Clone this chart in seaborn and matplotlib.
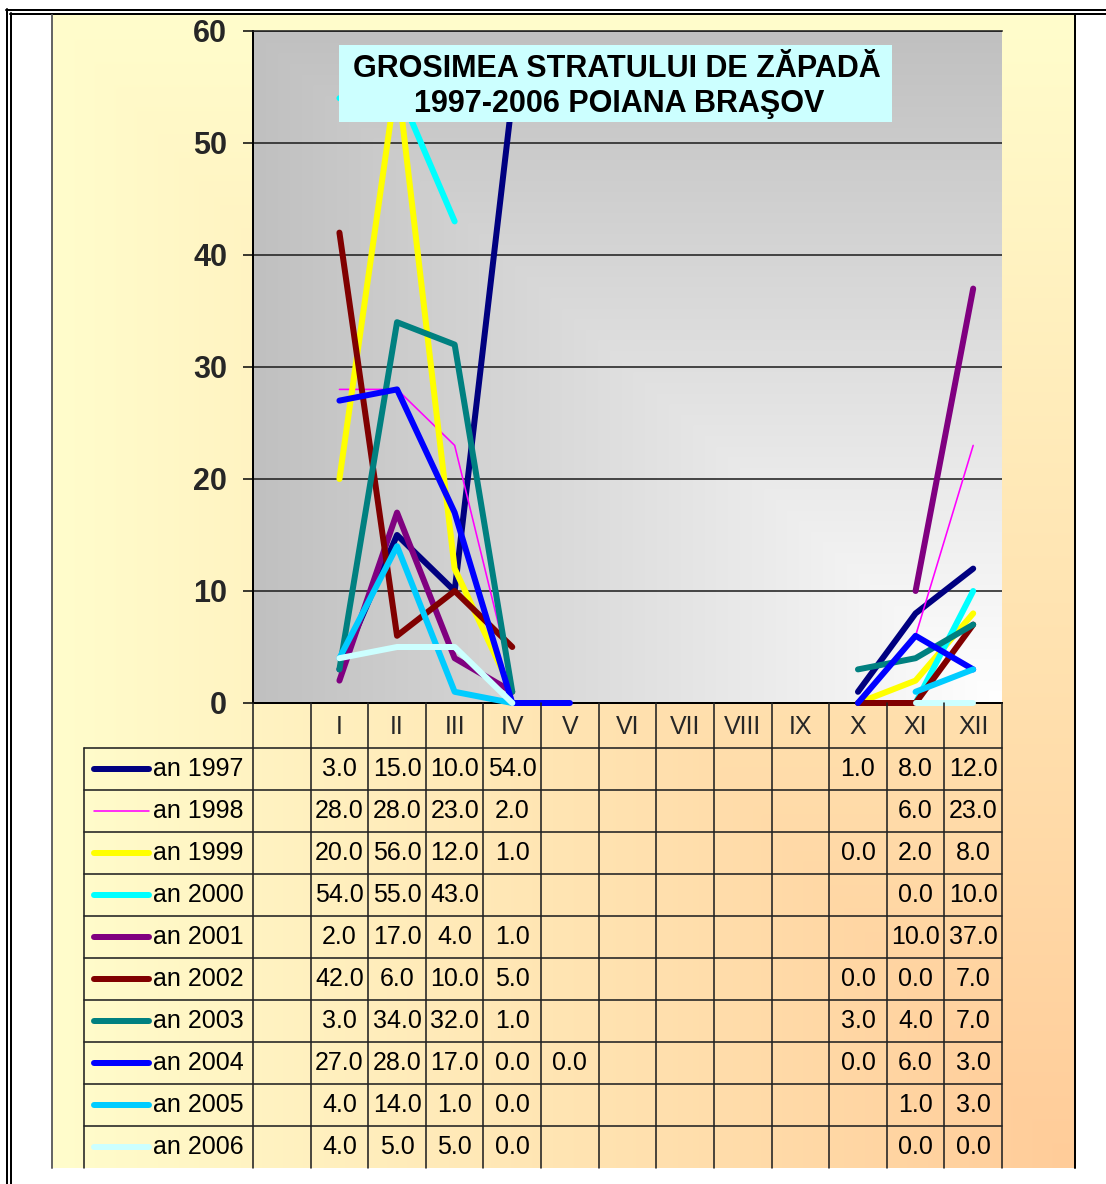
import numpy as np
import pandas as pd
import matplotlib
matplotlib.use('Agg')
import matplotlib.pyplot as plt
import seaborn as sns
from matplotlib.patches import Rectangle
from matplotlib.transforms import blended_transform_factory

# ---------------- data ----------------
months = ['I', 'II', 'III', 'IV', 'V', 'VI', 'VII', 'VIII', 'IX', 'X', 'XI', 'XII']
years = ['an 1997', 'an 1998', 'an 1999', 'an 2000', 'an 2001',
         'an 2002', 'an 2003', 'an 2004', 'an 2005', 'an 2006']
N = np.nan
v1997 = [3, 15, 10, 54, N, N, N, N, N, 1, 8, 12]
v1998 = [28, 28, 23, 2, N, N, N, N, N, N, 6, 23]
v1999 = [20, 56, 12, 1, N, N, N, N, N, 0, 2, 8]
v2000 = [54, 55, 43, N, N, N, N, N, N, N, 0, 10]
v2001 = [2, 17, 4, 1, N, N, N, N, N, N, 10, 37]
v2002 = [42, 6, 10, 5, N, N, N, N, N, 0, 0, 7]
v2003 = [3, 34, 32, 1, N, N, N, N, N, 3, 4, 7]
v2004 = [27, 28, 17, 0, 0, N, N, N, N, 0, 6, 3]
v2005 = [4, 14, 1, 0, N, N, N, N, N, N, 1, 3]
v2006 = [4, 5, 5, 0, N, N, N, N, N, N, 0, 0]
series = [v1997, v1998, v1999, v2000, v2001, v2002, v2003, v2004, v2005, v2006]
colors = ['#000080', '#FF00FF', '#FFFF00', '#00FFFF', '#800080',
          '#800000', '#008080', '#0000FF', '#00CCFF', '#CCFFFF']
title_lines = ['GROSIMEA STRATULUI DE ZĂPADĂ', '1997-2006 POIANA BRAŞOV']

# ---------------- style ----------------
sns.set_theme(style='white')
plt.rcParams['font.family'] = ['Liberation Sans', 'DejaVu Sans']

W, H = 1106, 1184
fig = plt.figure(figsize=(W / 100, H / 100), dpi=100)
PX = 0.72  # points per pixel
THICK = 6 * PX
THIN = 1.6 * PX

# background axes in pixel coordinates
bg = fig.add_axes([0, 0, 1, 1], zorder=0)
bg.set_xlim(0, W)
bg.set_ylim(H, 0)
bg.axis('off')

# outer chart area gradient (light yellow -> peach toward bottom-right)
nx, ny = 300, 300
u = np.linspace(0, 1, nx)[None, :]
t = np.linspace(0, 1, ny)[:, None]
d = np.maximum(1 - u, 1 - t)  # 0 at bottom-right corner
c0 = np.array([255, 204, 153]) / 255.0
c1 = np.array([255, 253, 204]) / 255.0
img = c0[None, None, :] * (1 - d[..., None]) + c1[None, None, :] * d[..., None]
bg.imshow(img, extent=[52, 1075, 1168, 15], aspect='auto', interpolation='bilinear', zorder=0)

# plot area gradient (gray -> white at bottom-right)
d2 = np.maximum(1 - u, 1 - t)
g = (255 - (255 - 192) * d2) / 255.0
img2 = np.dstack([g, g, g])
bg.imshow(img2, extent=[253, 1002, 703, 31], aspect='auto', interpolation='bilinear', zorder=1)

# frames
bg.plot([6.5, 6.5], [9, H], color='black', lw=2 * PX, zorder=3)
bg.plot([10.5, 10.5], [13, H], color='black', lw=2 * PX, zorder=3)
bg.plot([5.5, W], [10, 10], color='black', lw=2 * PX, zorder=3)
bg.plot([10, W], [14, 14], color='black', lw=2 * PX, zorder=3)
bg.plot([52, 52], [15, 1168], color='#666666', lw=2 * PX, zorder=3)
bg.plot([1075, 1075], [14, 1168], color='black', lw=2 * PX, zorder=3)
bg.set_xlim(0, W)
bg.set_ylim(H, 0)

# ---------------- main plot ----------------
ax = fig.add_axes([253 / W, 1 - 703 / H, (1002 - 253) / W, (703 - 31) / H], zorder=1)
ax.set_facecolor('none')
x_idx = np.arange(1, 13)
for name, vals, col in zip(years, series, colors):
    df = pd.DataFrame({'x': x_idx, 'y': np.array(vals, dtype=float)})
    df['seg'] = df['y'].isna().cumsum()
    df = df.dropna()
    lw = THIN if name == 'an 1998' else THICK
    sns.lineplot(data=df, x='x', y='y', units='seg', estimator=None, sort=False,
                 color=col, linewidth=lw, ax=ax, legend=False,
                 solid_capstyle='round', solid_joinstyle='round', clip_on=False, zorder=3)

ax.set_xlim(-0.5, 12.5)
ax.set_ylim(0, 60)
ax.set_yticks(range(0, 61, 10))
ax.set_xticks(range(13))
ax.set_xticklabels([''] + months, fontsize=18)
for lab in ax.get_yticklabels():
    lab.set_fontweight('bold')
ax.tick_params(axis='y', direction='out', length=10 * PX, width=1.5 * PX,
               color='black', labelsize=22, pad=16 * PX, left=True)
ax.tick_params(axis='x', length=0, pad=24 * PX)
for lab in ax.get_xticklabels():
    lab.set_verticalalignment('center')
ax.grid(axis='y', color='#222222', linewidth=1.6 * PX, zorder=1)
ax.grid(axis='x', visible=False)
ax.set_axisbelow(True)
ax.set_xlabel('')
ax.set_ylabel('')
ax.spines['right'].set_visible(False)
ax.spines['top'].set_color('#222222')
ax.spines['top'].set_linewidth(1.6 * PX)
ax.spines['left'].set_color('black')
ax.spines['left'].set_linewidth(2 * PX)
ax.spines['bottom'].set_color('black')
ax.spines['bottom'].set_linewidth(2 * PX)

# ---------------- overlay: title + data table ----------------
ov = fig.add_axes([0, 0, 1, 1], zorder=2)
ov.set_facecolor('none')
ov.set_xlim(0, W)
ov.set_ylim(H, 0)
ov.axis('off')

ov.add_patch(Rectangle((339, 45), 553, 77, facecolor='#CCFFFF', edgecolor='none', zorder=2))
ov.text(617, 77, title_lines[0], ha='center', va='baseline', fontsize=22,
        fontweight='bold', color='black', zorder=3)
ov.text(619, 112, title_lines[1], ha='center', va='baseline', fontsize=22,
        fontweight='bold', color='black', zorder=3)

trans = blended_transform_factory(ax.transData, ov.transData)
line_col = '#222222'
table_top, row_top, row_h = 703, 748, 42
table_bot = 1168
for b in np.arange(-0.5, 13.0, 1.0):
    ov.plot([b, b], [table_top, table_bot], color=line_col, lw=1.6 * PX,
            transform=trans, zorder=2, clip_on=False)
ov.plot([84, 84], [row_top, table_bot], color=line_col, lw=1.6 * PX, zorder=2)
for k in range(len(years)):
    yk = row_top + k * row_h
    ov.plot([84, 1002], [yk, yk], color=line_col, lw=1.6 * PX, zorder=2)

for r, (name, vals, col) in enumerate(zip(years, series, colors)):
    yc = row_top + r * row_h + row_h / 2
    lw = THIN if name == 'an 1998' else THICK
    ov.plot([94, 149], [yc, yc], color=col, lw=lw, solid_capstyle='round', zorder=3)
    ov.text(153, yc, name, ha='left', va='center', fontsize=18, color='black', zorder=3)
    for xi, v in zip(x_idx, vals):
        if not np.isnan(v):
            ov.text(xi, yc, f'{v:.1f}', ha='center', va='center', fontsize=18,
                    color='black', transform=trans, zorder=3)

fig.savefig('out.png', dpi=100)
